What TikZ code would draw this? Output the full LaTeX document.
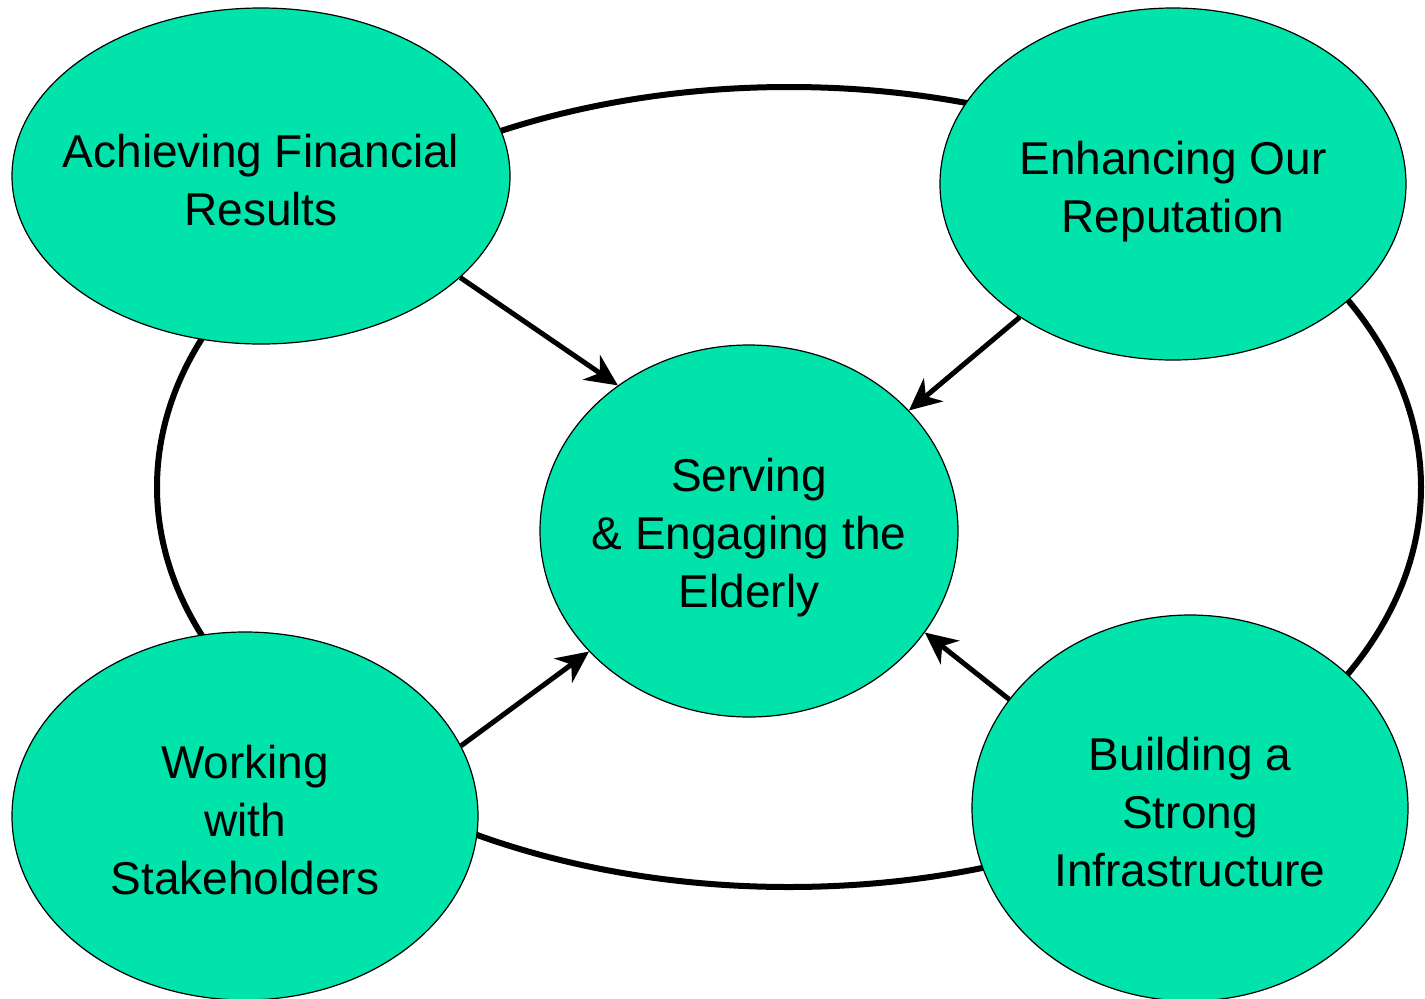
\documentclass[tikz,border=0pt]{standalone}
\usepackage{fontspec}
\setmainfont{Liberation Sans}
\usetikzlibrary{shapes.geometric, arrows.meta, positioning}
\definecolor{goalgreen}{RGB}{0,227,170}

\begin{document}
\begin{tikzpicture}[x=1pt, y=-1pt,
	goal/.style={ellipse, draw, line width=1.2pt, fill=goalgreen, inner sep=0pt},
	goaltext/.style={align=center, inner sep=0pt, yshift=-4pt, font=\fontsize{46}{58}\selectfont},
	link/.style={-{Stealth[length=32pt, width=30pt, inset=10pt]}, line width=5pt}]
		\useasboundingbox (0,0) rectangle (1425,999);
		% outer ring
		\draw[line width=6pt] (789,487) ellipse [x radius=632pt, y radius=400pt];
		
		\draw (261,176) node[goal, minimum width=498pt, minimum height=336pt, label={[goaltext]center:Achieving Financial\\Results}] (fin) {}
		(1173,184) node[goal, minimum width=466pt, minimum height=352pt, label={[goaltext, yshift=-4pt]center:Enhancing Our\\Reputation}] (rep) {}
		(749,531) node[goal, minimum width=418pt, minimum height=372pt, label={[goaltext, yshift=-3pt]center:Serving\\\& Engaging the\\Elderly}] (serve) {}
		(245,816) node[goal, minimum width=466pt, minimum height=368pt, label={[goaltext]center:Working\\with\\Stakeholders}] (stake) {}
		(1190,808) node[goal, minimum width=436pt, minimum height=386pt, label={[goaltext]center:Building a\\Strong\\Infrastructure}] (infra) {};
		
		\draw[link] (fin.-27.6) -- (serve.132.5);
		\draw[link] (rep.-139.5) -- (serve.37.5);
		\draw[link] (stake.18.4) -- (serve.-143.5);
		\draw[link] (infra.149) -- (serve.-30);
	\end{tikzpicture}
\end{document}
